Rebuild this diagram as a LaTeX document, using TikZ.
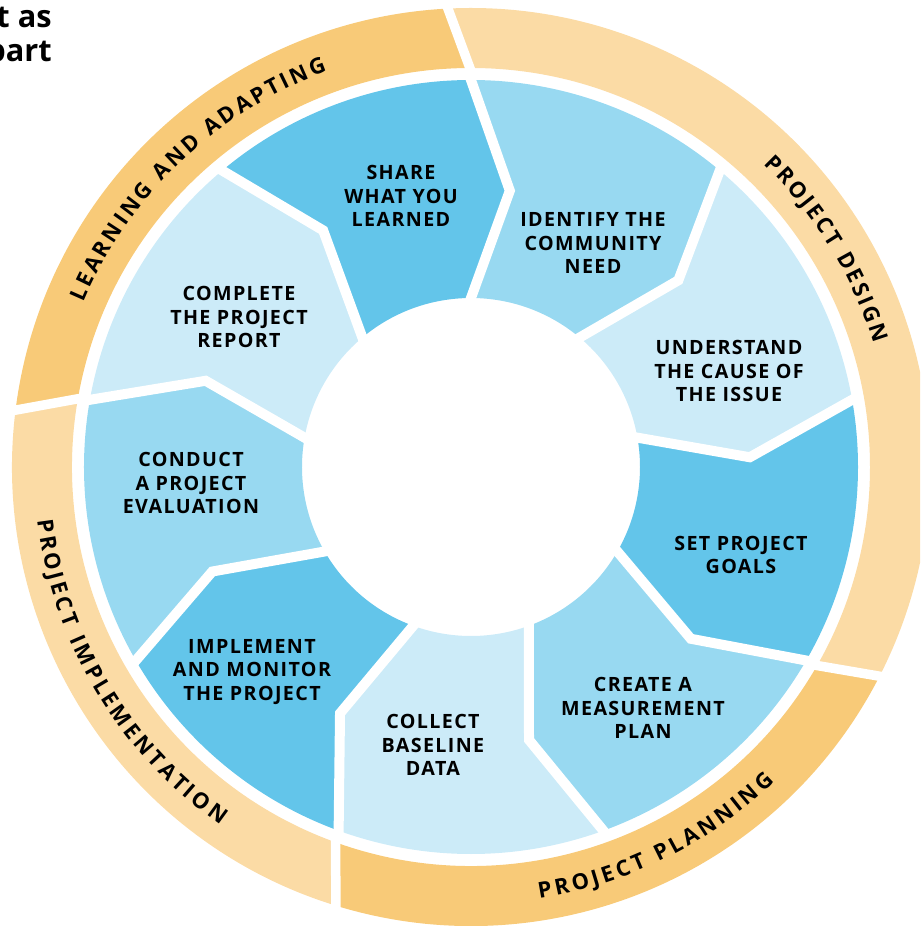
\documentclass[tikz,border=0pt]{standalone}
\usepackage{fontspec}
\setmainfont{Open Sans}
\newfontfamily\stepfont[LetterSpace=7]{Open Sans}
\usetikzlibrary{decorations.text}

\definecolor{bdark}{RGB}{99,197,234}
\definecolor{bmid}{RGB}{152,217,241}
\definecolor{blight}{RGB}{204,235,248}
\definecolor{odark}{RGB}{248,202,120}
\definecolor{olight}{RGB}{251,219,165}

\begin{document}
\begin{tikzpicture}[x=0.02cm, y=0.02cm,
  gapline/.style={white, line width=0.2cm, line cap=rect, line join=miter},
  steplabel/.style={align=center, inner sep=0pt, font=\stepfont\bfseries\fontsize{11.2}{13.3}\selectfont},
  ringlabel/.style={decorate, decoration={text along path, text align=fit to path,
     text={|\bfseries\fontsize{12.5}{15}\selectfont|#1}}},
  headtext/.style={anchor=base east, inner sep=0pt, font=\bfseries\fontsize{17.5}{21}\selectfont}
]
\useasboundingbox (-471,-459) rectangle (449,467);
\clip (-471,-459) rectangle (449,467);

% outer ring: four phases
\foreach \a/\b/\col in {90/170/odark, -30/90/olight, -110/-30/odark, 170/250/olight}{
  \fill[\col] ({\a}:399) -- ({\a+3}:459)
    arc[start angle={\a+3}, end angle={\b+3}, radius=459]
    -- ({\b}:399) arc[start angle={\b}, end angle={\a}, radius=399] -- cycle;
}
\foreach \a in {90,-30,-110,170}{
  \draw[gapline, line width=0.19cm] ({\a}:396) -- ({\a+3}:462);
}

% inner ring: nine steps, clockwise from the top boundary
\foreach \k/\col in {0/bmid,1/blight,2/bdark,3/bmid,4/blight,5/bdark,6/bmid,7/blight,8/bdark}{
  \pgfmathsetmacro\a{90-40*\k}
  \pgfmathsetmacro\b{\a-40}
  \fill[\col] ({\a}:169) -- ({\a-8}:279) -- ({\a}:387)
    arc[start angle={\a}, end angle={\b}, radius=387]
    -- ({\b-8}:279) -- ({\b}:169)
    arc[start angle={\b}, end angle={\a}, radius=169] -- cycle;
}
\foreach \k in {0,...,8}{
  \pgfmathsetmacro\a{90-40*\k}
  \draw[gapline] ({\a}:169) -- ({\a-8}:279) -- ({\a}:387);
}

% step labels
\node[steplabel] (share)     at (-70,271)  {SHARE\\WHAT YOU\\LEARNED};
\node[steplabel] (identify)  at (122,224)  {IDENTIFY THE\\COMMUNITY\\NEED};
\node[steplabel] (cause)     at (258,96)   {UNDERSTAND\\THE CAUSE OF\\THE ISSUE};
\node[steplabel] (goals)     at (270,-88)  {SET PROJECT\\GOALS};
\node[steplabel] (plan)      at (172,-241) {CREATE A\\MEASUREMENT\\PLAN};
\node[steplabel] (baseline)  at (-38,-278) {COLLECT\\BASELINE\\DATA};
\node[steplabel] (implement) at (-219,-205){IMPLEMENT\\AND MONITOR\\THE PROJECT};
\node[steplabel] (evaluate)  at (-280,-16) {CONDUCT\\A PROJECT\\EVALUATION};
\node[steplabel] (report)    at (-232,150) {COMPLETE\\THE PROJECT\\REPORT};

% phase labels along the ring
\path[ringlabel={LEARNING AND ADAPTING}] (157:421) arc[start angle=157, end angle=110, radius=421];
\path[ringlabel={PROJECT DESIGN}] (46:421) arc[start angle=46, end angle=17, radius=421];
\path[ringlabel={PROJECT PLANNING}] (-81:437) arc[start angle=-81, end angle=-46, radius=437];
\path[ringlabel={PROJECT IMPLEMENTATION}] (187:437) arc[start angle=187, end angle=235, radius=437];

% heading fragment at the top left
\node[headtext] (headA) at (-419,439) {t as};
\node[headtext] (headB) at (-419,405) {part};
\end{tikzpicture}
\end{document}
